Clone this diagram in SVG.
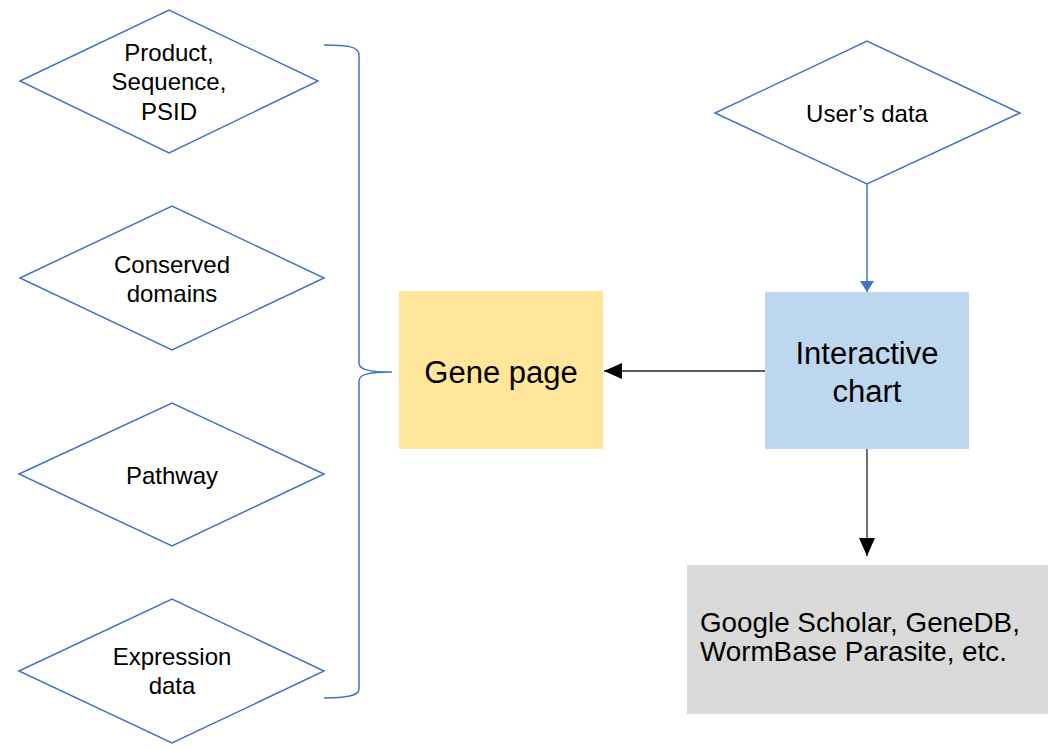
<svg xmlns="http://www.w3.org/2000/svg" width="1060" height="750" viewBox="0 0 1060 750">
<style>
.dia{fill:#ffffff;stroke:#4472C4;stroke-width:1.5}
.brace{fill:none;stroke:#4472C4;stroke-width:1.5}
.t{font-family:"Liberation Sans",Arial,sans-serif;fill:#000000}
.dt{font-size:24px;text-anchor:middle}
.bt{font-size:31px;text-anchor:middle}
.gt{font-size:27.8px}
.blk{stroke:#222222;stroke-width:1.3;fill:none}
.blu{stroke:#4472C4;stroke-width:1.5;fill:none}
</style>
<defs>
<marker id="ahBlack" markerUnits="userSpaceOnUse" markerWidth="20" markerHeight="16" refX="18" refY="8" orient="auto">
<path d="M0,0 L18,8 L0,16 Z" fill="#000000"/>
</marker>
<marker id="ahBlue" markerUnits="userSpaceOnUse" markerWidth="14" markerHeight="14" refX="11" refY="7" orient="auto">
<path d="M0,0 L11,7 L0,14 Z" fill="#4472C4"/>
</marker>
</defs>
<rect width="1060" height="750" fill="#ffffff"/>

<g id="product">
<polygon class="dia" points="20,81 169,10 318,81 169,153"/>
<text class="t dt" x="169" y="61">Product,</text>
<text class="t dt" x="169" y="90">Sequence,</text>
<text class="t dt" x="169" y="120">PSID</text>
</g>

<g id="conserved">
<polygon class="dia" points="20,278 172,206 324,278 172,350"/>
<text class="t dt" x="172" y="273">Conserved</text>
<text class="t dt" x="172" y="302">domains</text>
</g>

<g id="pathway">
<polygon class="dia" points="19,474 172,403 324,474 172,546"/>
<text class="t dt" x="172" y="484">Pathway</text>
</g>

<g id="expression">
<polygon class="dia" points="19,671 172,599 324,671 172,743"/>
<text class="t dt" x="172" y="665">Expression</text>
<text class="t dt" x="172" y="694">data</text>
</g>

<g id="brace">
<path class="brace" d="M324,45 C346,45 359,46 359,55 L359,363 C359,370 370,372 392,372 C370,372 359,374 359,381 L359,689 C359,696 346,698 324,698"/>
</g>

<g id="users-data">
<polygon class="dia" points="715,113 867,41 1020,113 867,184"/>
<text class="t dt" x="867" y="122">User’s data</text>
</g>

<g id="gene-page">
<rect x="399" y="291" width="204" height="158" fill="#FFE699"/>
<text class="t bt" x="501" y="383">Gene page</text>
</g>

<g id="interactive-chart">
<rect x="765" y="292" width="204" height="157" fill="#BDD7EE"/>
<text class="t bt" x="867" y="364">Interactive</text>
<text class="t bt" x="867" y="402">chart</text>
</g>

<g id="external">
<rect x="687" y="565" width="361" height="149" fill="#D9D9D9"/>
<text class="t gt" x="700" y="632">Google Scholar, GeneDB,</text>
<text class="t gt" x="700" y="661">WormBase Parasite, etc.</text>
</g>

<g id="connectors">
<line class="blu" x1="867" y1="184" x2="867" y2="292" marker-end="url(#ahBlue)"/>
<line class="blk" x1="765" y1="371" x2="604" y2="371" marker-end="url(#ahBlack)"/>
<line class="blk" x1="867" y1="449" x2="867" y2="556" marker-end="url(#ahBlack)"/>
</g>
</svg>
